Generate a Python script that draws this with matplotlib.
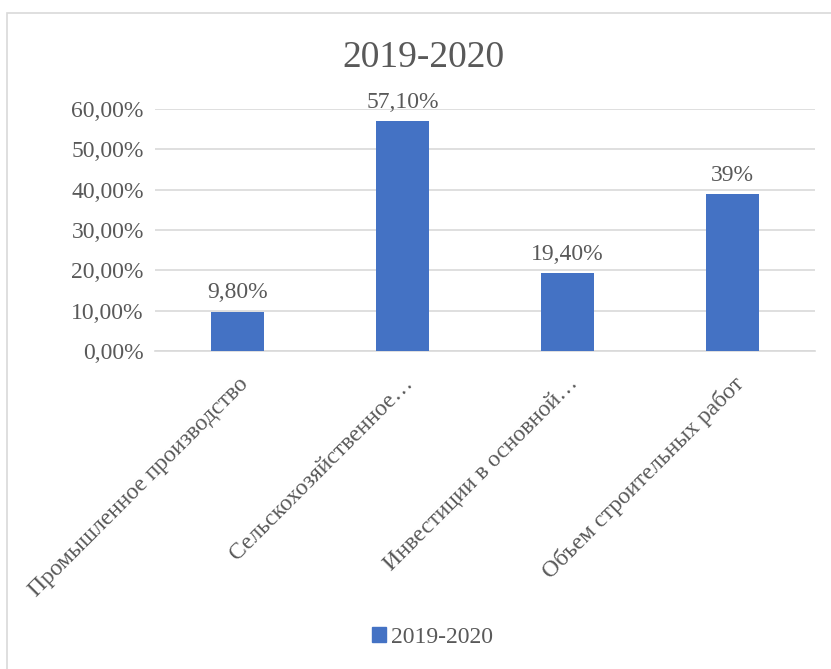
import matplotlib.pyplot as plt
from matplotlib.patches import Rectangle, Patch

plt.rcParams['font.family'] = ['Liberation Serif', 'DejaVu Serif']

categories = ['Промышленное производство', 'Сельскохозяйственное…',
              'Инвестиции в основной…', 'Объем строительных работ']
values = [0.098, 0.571, 0.194, 0.39]
labels = ['9,80%', '57,10%', '19,40%', '39%']
yticks = [0.0, 0.1, 0.2, 0.3, 0.4, 0.5, 0.6]
ytick_labels = ['0,00%', '10,00%', '20,00%', '30,00%', '40,00%', '50,00%', '60,00%']

txt = '#595959'
blue = '#4472C4'

fig = plt.figure(figsize=(8.31, 6.69), dpi=100)
fig.patches.append(Rectangle((0.009, -0.01), 0.995, 0.99, transform=fig.transFigure,
                             fill=False, edgecolor='#D9D9D9', linewidth=1.2))
ax = fig.add_axes([0.1865, 0.4753, 0.7945, 0.3617])

x = range(len(categories))
ax.bar(x, values, width=0.32, color=blue, zorder=3)
for i, v in enumerate(values):
    ax.text(i, v + 0.02, labels[i], ha='center', va='bottom', fontsize=17, color=txt)

ax.set_xlim(-0.5, len(categories) - 0.5)
ax.set_ylim(0, 0.6)
ax.set_yticks(yticks)
ax.set_yticklabels(ytick_labels, fontsize=17, color=txt)
ax.set_xticks(list(x))
ax.set_xticklabels(categories, rotation=45, ha='right', rotation_mode='anchor',
                   fontsize=17, color=txt)
ax.tick_params(length=0, pad=8)
ax.tick_params(axis='x', pad=16)
ax.yaxis.grid(True, color='#D9D9D9', linewidth=1.2, zorder=0)
for s in ['top', 'right', 'left']:
    ax.spines[s].set_visible(False)
ax.spines['bottom'].set_color('#D9D9D9')
ax.spines['bottom'].set_linewidth(1.2)

fig.text(0.51, 0.913, '2019-2020', ha='center', va='center', fontsize=27, color=txt)
fig.legend(handles=[Patch(color=blue, label='2019-2020')], loc='center',
           bbox_to_anchor=(0.52, 0.047), frameon=False, fontsize=17,
           handlelength=0.6, handleheight=0.6, handletextpad=0.2, labelcolor=txt)

fig.savefig('out.png', dpi=100)
